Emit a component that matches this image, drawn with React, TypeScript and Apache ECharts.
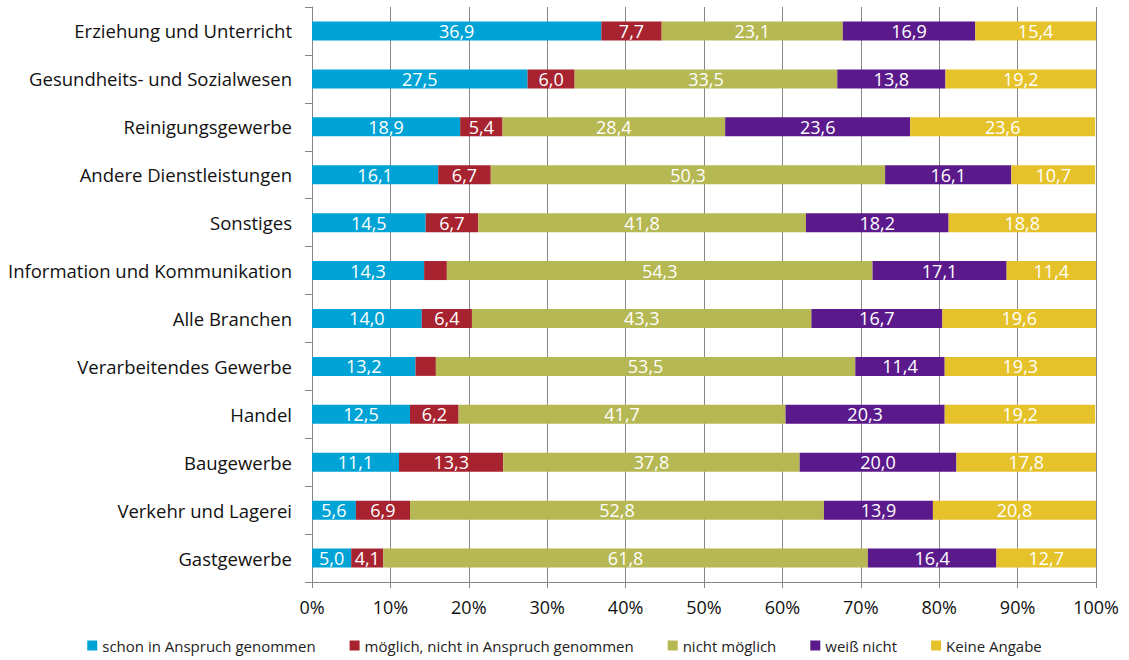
import React, { useEffect, useRef } from "react";
import * as echarts from "echarts";

const categories = [
  "Erziehung und Unterricht",
  "Gesundheits- und Sozialwesen",
  "Reinigungsgewerbe",
  "Andere Dienstleistungen",
  "Sonstiges",
  "Information und Kommunikation",
  "Alle Branchen",
  "Verarbeitendes Gewerbe",
  "Handel",
  "Baugewerbe",
  "Verkehr und Lagerei",
  "Gastgewerbe",
];

const seriesNames = [
  "schon in Anspruch genommen",
  "möglich, nicht in Anspruch genommen",
  "nicht möglich",
  "weiß nicht",
  "Keine Angabe",
];

const schon = [36.9, 27.5, 18.9, 16.1, 14.5, 14.3, 14.0, 13.2, 12.5, 11.1, 5.6, 5.0];
const moeglich = [7.7, 6.0, 5.4, 6.7, 6.7, 2.9, 6.4, 2.6, 6.2, 13.3, 6.9, 4.1];
const nichtMoeglich = [23.1, 33.5, 28.4, 50.3, 41.8, 54.3, 43.3, 53.5, 41.7, 37.8, 52.8, 61.8];
const weissNicht = [16.9, 13.8, 23.6, 16.1, 18.2, 17.1, 16.7, 11.4, 20.3, 20.0, 13.9, 16.4];
const keineAngabe = [15.4, 19.2, 23.6, 10.7, 18.8, 11.4, 19.6, 19.3, 19.2, 17.8, 20.8, 12.7];

const colors = ["#00A3D5", "#A6232F", "#B6B853", "#5B1A8B", "#E6C22A"];

const FONT = "Open Sans";

export default function App() {
  const ref = useRef<HTMLDivElement>(null);
  useEffect(() => {
    if (!ref.current) return;
    const chart = echarts.init(ref.current, undefined, { renderer: "svg" });
    const data = [schon, moeglich, nichtMoeglich, weissNicht, keineAngabe];
    chart.setOption({
      animation: false,
      color: colors,
      grid: { left: 312, right: 33, top: 7, bottom: 78, containLabel: false },
      legend: {
        top: 638,
        padding: 0,
        left: "center",
        icon: "rect",
        itemWidth: 10,
        itemHeight: 10,
        itemGap: 34,
        textStyle: { fontFamily: FONT, fontSize: 15, color: "#222" },
        data: seriesNames,
      },
      xAxis: {
        type: "value",
        min: 0,
        max: 100,
        interval: 10,
        axisLabel: {
          formatter: "{value}%",
          fontFamily: FONT,
          fontSize: 18,
          color: "#111",
          margin: 16,
        },
        axisLine: { show: true, lineStyle: { color: "#868686", width: 1 } },
        axisTick: { show: true, length: 6, lineStyle: { color: "#868686" } },
        splitLine: { show: true, lineStyle: { color: "#868686", width: 1 } },
      },
      yAxis: {
        type: "category",
        inverse: true,
        data: categories,
        axisLabel: {
          fontFamily: FONT,
          fontSize: 18.5,
          color: "#111",
          margin: 20,
        },
        axisLine: { show: true, lineStyle: { color: "#868686", width: 1 } },
        axisTick: { show: true, length: 7, lineStyle: { color: "#868686" } },
      },
      series: data.map((vals, i) => ({
        name: seriesNames[i],
        type: "bar",
        stack: "total",
        barWidth: 19,
        data: vals,
        label: {
          show: true,
          position: "inside",
          color: "#fff",
          fontFamily: FONT,
          fontSize: 18,
          formatter: (p: any) => (p.value < 3 ? "" : Number(p.value).toFixed(1).replace(".", ",")),
        },
        itemStyle: { borderWidth: 0 },
      })),
    });
    return () => chart.dispose();
  }, []);
  return (
    <div
      ref={ref}
      style={{ position: "absolute", left: 0, top: 0, width: 1129, height: 660 }}
    />
  );
}
